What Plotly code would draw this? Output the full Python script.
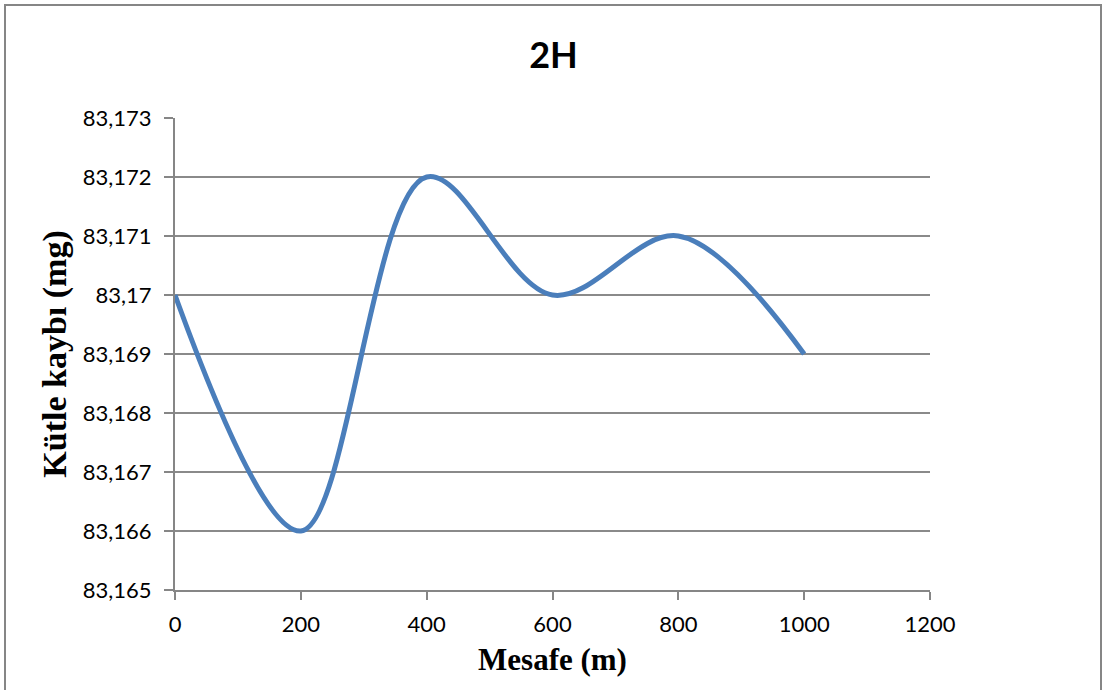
import plotly.graph_objects as go

x_vals = [0, 200, 400, 600, 800, 1000]
y_vals = [83.170, 83.166, 83.172, 83.170, 83.171, 83.169]
y_ticks = [83.165, 83.166, 83.167, 83.168, 83.169, 83.170, 83.171, 83.172, 83.173]
y_ticktext = ["83,165", "83,166", "83,167", "83,168", "83,169", "83,17", "83,171", "83,172", "83,173"]
x_ticks = [0, 200, 400, 600, 800, 1000, 1200]

W, H = 1107, 690
L, R, T, B = 175, 177, 118, 100
TICKFONT = dict(family="Lato, Open Sans, Arial", size=22, color="black")

fig = go.Figure()
fig.add_trace(go.Scatter(x=x_vals, y=y_vals, mode="lines",
                         line=dict(color="#4a7ebb", width=5, shape="spline", smoothing=1.0),
                         showlegend=False))

fig.update_layout(
    width=W, height=H,
    margin=dict(l=L, r=R, t=T, b=B, pad=0),
    paper_bgcolor="white", plot_bgcolor="white",
    title=dict(text="<b>2H</b>", x=0.5, xanchor="center", y=1 - 55 / H, yanchor="middle",
               font=dict(family="Lato, Open Sans, Arial", size=36, color="black")),
    xaxis=dict(range=[0, 1200], tickvals=x_ticks, showgrid=False, zeroline=False,
               showline=True, linecolor="#868686", linewidth=2,
               ticks="outside", ticklen=8, tickcolor="#868686", tickwidth=1.5,
               ticklabelstandoff=6,
               tickfont=TICKFONT,
               title=dict(text="<b>Mesafe (m)</b>", standoff=12,
                          font=dict(family="Liberation Serif, Times New Roman", size=31, color="black"))),
    yaxis=dict(range=[83.165, 83.173], tickvals=y_ticks, ticktext=y_ticktext,
               showgrid=True, gridcolor="#8a8a8a", gridwidth=2, zeroline=False,
               showline=True, linecolor="#868686", linewidth=2,
               ticks="outside", ticklen=9, tickcolor="#868686", tickwidth=1.5,
               ticklabelstandoff=8,
               tickfont=TICKFONT,
               title=dict(text="<b>Kütle kaybı (mg)</b>", standoff=6,
                          font=dict(family="Liberation Serif, Times New Roman", size=34, color="black"))),
)

fig.add_shape(type="rect", xref="paper", yref="paper",
              x0=-(L - 5) / (W - L - R), x1=1 + (R - 6) / (W - L - R),
              y0=-(B + 10) / (H - T - B), y1=1 + (T - 5) / (H - T - B),
              line=dict(color="#868686", width=2), fillcolor="rgba(0,0,0,0)", layer="below")

fig.write_html("out.html")
